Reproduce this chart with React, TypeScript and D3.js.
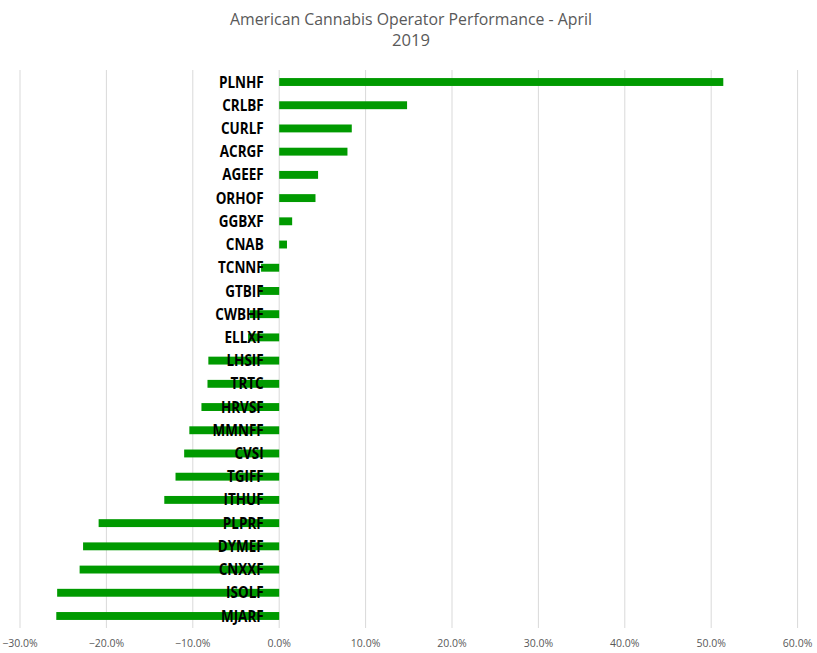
import React from "react";
import * as d3 from "d3";

const categories = [
  "PLNHF", "CRLBF", "CURLF", "ACRGF", "AGEEF", "ORHOF", "GGBXF", "CNAB",
  "TCNNF", "GTBIF", "CWBHF", "ELLXF", "LHSIF", "TRTC", "HRVSF", "MMNFF",
  "CVSI", "TGIFF", "ITHUF", "PLPRF", "DYMEF", "CNXXF", "ISOLF", "MJARF",
];
const values = [
  0.514, 0.148, 0.084, 0.079, 0.045, 0.042, 0.015, 0.009,
  -0.021, -0.023, -0.034, -0.036, -0.082, -0.083, -0.09, -0.104,
  -0.11, -0.12, -0.133, -0.209, -0.227, -0.231, -0.257, -0.258,
];
const tickValues = [-0.3, -0.2, -0.1, 0, 0.1, 0.2, 0.3, 0.4, 0.5, 0.6];
const titleLines = ["American Cannabis Operator Performance - April", "2019"];

const W = 817;
const H = 653;

export default function App() {
  const x = d3.scaleLinear().domain([-0.3, 0.6]).range([20, 797.6]);
  const y = d3
    .scaleBand<string>()
    .domain(categories)
    .range([70.4, 627.6])
    .paddingInner(0.66)
    .paddingOuter(0.33);
  const fmt = d3.format(".1%");
  const x0 = x(0);

  return (
    <svg
      width={W}
      height={H}
      style={{ position: "absolute", left: 0, top: 0, background: "#fff" }}
    >
      <rect width={W} height={H} fill="#fff" />
      <text
        x={411}
        y={24.5}
        textAnchor="middle"
        fontFamily="'Open Sans', sans-serif"
        fontSize={16.5}
        fill="#595959"
        textLength={362}
        lengthAdjust="spacingAndGlyphs"
      >
        {titleLines[0]}
      </text>
      <text
        x={411}
        y={45.5}
        textAnchor="middle"
        fontFamily="'Open Sans', sans-serif"
        fontSize={16.5}
        fill="#595959"
        textLength={38}
        lengthAdjust="spacingAndGlyphs"
      >
        {titleLines[1]}
      </text>
      <g>
        {tickValues.map((t) => (
          <line
            key={t}
            x1={x(t)}
            x2={x(t)}
            y1={70}
            y2={628}
            stroke="#d9d9d9"
            strokeWidth={1}
          />
        ))}
      </g>
      <g>
        {categories.map((c, i) => {
          const v = values[i];
          return (
            <rect
              key={c}
              x={Math.min(x(v), x0)}
              y={y(c)}
              width={Math.abs(x(v) - x0)}
              height={y.bandwidth()}
              fill="#009a00"
            />
          );
        })}
      </g>
      <g>
        {categories.map((c) => (
          <text
            key={c}
            transform={`translate(${x0 - 15.5},${(y(c) as number) + y.bandwidth() / 2}) scale(0.87,1)`}
            dy="0.36em"
            textAnchor="end"
            fontFamily="'Open Sans', sans-serif"
            fontWeight={700}
            fontSize={15.5}
            fill="#000"
          >
            {c}
          </text>
        ))}
      </g>
      <g>
        {tickValues.map((t) => (
          <text
            key={t}
            x={x(t)}
            y={646.5}
            textAnchor="middle"
            fontFamily="'Open Sans', sans-serif"
            fontSize={10.5}
            fill="#595959"
          >
            {fmt(t)}
          </text>
        ))}
      </g>
    </svg>
  );
}
